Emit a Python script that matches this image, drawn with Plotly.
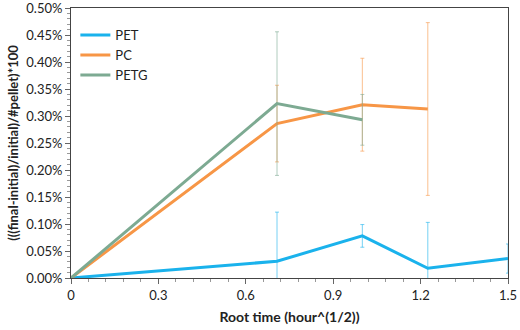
"""Mass change vs root time, with error bars."""

import plotly.graph_objects as go

x_vals = [0, 0.7071, 1.0, 1.2247, 1.5]

# values in percent
pet_y = [0.0, 0.031, 0.078, 0.018, 0.036]
pet_err = [0.0, 0.091, 0.021, 0.085, 0.027]

pc_x = [0, 0.7071, 1.0, 1.2247]
pc_y = [0.0, 0.286, 0.321, 0.313]
pc_err = [0.0, 0.071, 0.086, 0.160]

petg_x = [0, 0.7071, 1.0]
petg_y = [0.0, 0.323, 0.293]
petg_err = [0.0, 0.133, 0.047]

_FONT = "Lato, 'Open Sans', sans-serif"

series = [
    ("PET", x_vals, pet_y, pet_err, "#1AB2EC", "rgba(26,178,236,0.6)"),
    ("PC", pc_x, pc_y, pc_err, "#F79646", "rgba(247,150,70,0.6)"),
    ("PETG", petg_x, petg_y, petg_err, "#7DAA92", "rgba(125,170,146,0.6)"),
]

fig = go.Figure()
for name, xs, ys, errs, color, err_color in series:
    fig.add_trace(go.Scatter(
        x=xs, y=ys,
        mode="lines",
        name=name,
        line={"color": color, "width": 3},
        error_y={
            "type": "data", "array": errs, "visible": True,
            "color": err_color, "thickness": 1, "width": 2,
        },
    ))

fig.update_layout(
    width=520, height=330,
    paper_bgcolor="white", plot_bgcolor="white",
    margin={"l": 71, "r": 12, "t": 8, "b": 52},
    font={"family": _FONT, "size": 12, "color": "#222"},
    legend={
        "x": 0.01, "y": 0.955, "xanchor": "left", "yanchor": "top",
        "bgcolor": "rgba(0,0,0,0)", "font": {"size": 13},
        "tracegroupgap": 0, "itemwidth": 30,
    },
    xaxis={
        "range": [0, 1.5], "dtick": 0.3, "tick0": 0, "automargin": False,
        "showgrid": False, "zeroline": False,
        "showline": True, "linecolor": "#444", "linewidth": 1, "mirror": True,
        "ticks": "outside", "ticklen": 5, "tickcolor": "#666",
        "minor": {"dtick": 0.06, "ticks": "outside", "ticklen": 3, "tickcolor": "#999"},
        "title": {"text": "<b>Root time (hour^(1/2))</b>", "font": {"size": 14}, "standoff": 10},
        "tickfont": {"size": 13}, "ticklabeloverflow": "allow",
    },
    yaxis={
        "range": [0, 0.5001], "dtick": 0.05, "tick0": 0,
        "tickformat": ".2f", "ticksuffix": "%",
        "automargin": False,
        "showgrid": False, "zeroline": False,
        "showline": True, "linecolor": "#444", "linewidth": 1, "mirror": True,
        "ticks": "outside", "ticklen": 5, "tickcolor": "#666",
        "minor": {"dtick": 0.01, "ticks": "outside", "ticklen": 3, "tickcolor": "#999"},
        "title": {"text": "<b>(((final-initial)/initial)/#pellet)*100</b>", "font": {"size": 13}, "standoff": 4},
        "tickfont": {"size": 13}, "ticklabeloverflow": "allow",
    },
)

# the page body has a default 8px margin; drop it so the figure fills the window
fig.write_html(
    "out.html",
    config={"displayModeBar": False},
    post_script="document.body.style.margin='0';",
)
